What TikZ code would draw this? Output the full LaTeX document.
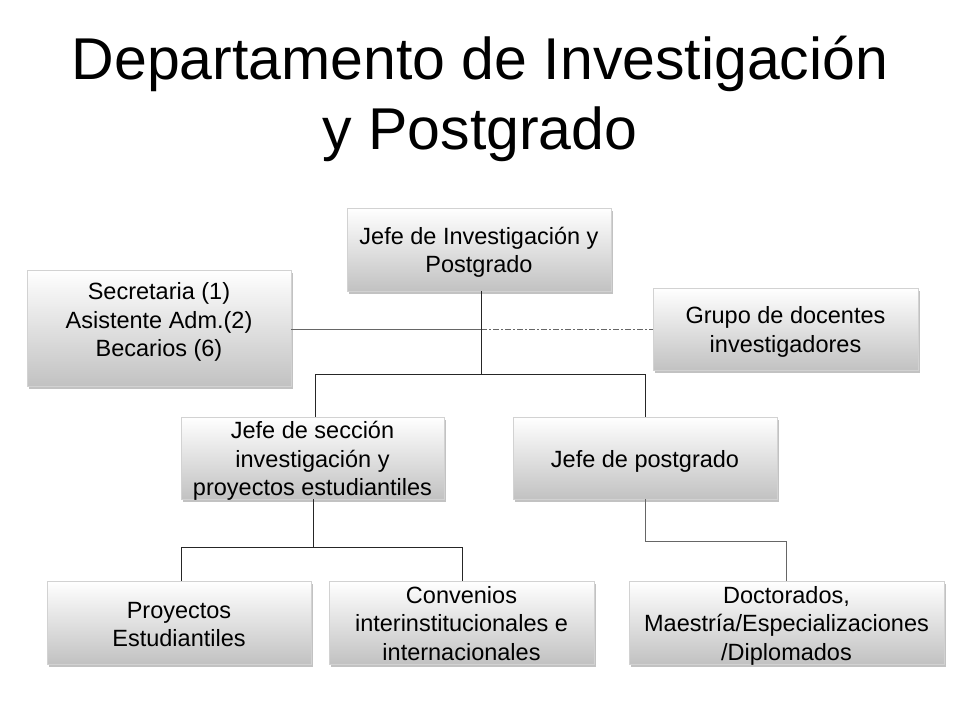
\documentclass[tikz,border=0pt]{standalone}
\usepackage{fontspec}
\setmainfont{Liberation Sans}
\usetikzlibrary{shadows}
\begin{document}
\begin{tikzpicture}[x=1pt,y=-1pt,
  orgbox/.style={draw=gray!35, line width=0.4pt, top color=white, bottom color=black!24,
    drop shadow={shadow xshift=2pt, shadow yshift=-3pt, opacity=0.4, fill=black!60},
    inner sep=0pt},
  lbl/.style={align=center, font=\fontsize{23.5}{28.5}\selectfont, inner sep=0pt, yshift=-3pt},
  conn/.style={line width=0.9pt, draw=black!85},
  gconn/.style={line width=1pt, draw=black!60}]
\useasboundingbox (0,0) rectangle (960,720);
\node[font=\fontsize{59}{70}\selectfont, align=center] (title) at (480,99) {Departamento de Investigación\\y Postgrado};
\node[orgbox, minimum width=264pt, minimum height=83pt, label={[lbl]center:{Jefe de Investigación y\\Postgrado}}] (jefe) at (479,249.5) {};
\node[orgbox, minimum width=264pt, minimum height=116pt, label={[lbl, yshift=9pt]center:{Secretaria (1)\\Asistente Adm.(2)\\Becarios (6)}}] (sec) at (159,328) {};
\node[orgbox, minimum width=265pt, minimum height=82pt, label={[lbl]center:{Grupo de docentes\\investigadores}}] (grupo) at (785.5,329) {};
\node[orgbox, minimum width=263pt, minimum height=82pt, label={[lbl]center:{Jefe de sección\\investigación y\\proyectos estudiantiles}}] (seccion) at (312.5,458) {};
\node[orgbox, minimum width=264pt, minimum height=82pt, label={[lbl]center:{Jefe de postgrado}}] (post) at (645,458) {};
\node[orgbox, minimum width=264pt, minimum height=83pt, label={[lbl, yshift=1pt]center:{Proyectos\\Estudiantiles}}] (proy) at (179,622.5) {};
\node[orgbox, minimum width=265pt, minimum height=83pt, label={[lbl, yshift=2pt]center:{Convenios\\interinstitucionales e\\internacionales}}] (conv) at (461.5,622.5) {};
\node[orgbox, minimum width=315pt, minimum height=83pt, label={[lbl]center:{Doctorados,\\Maestría/Especializaciones\\/Diplomados}}] (doc) at (786.5,622.5) {};
\coordinate (j1) at (481,374);
\coordinate (mid) at (481,329);
\draw[gconn] (sec.east |- mid) -- (mid);
\draw[gconn, dash pattern=on 6pt off 2pt on 2pt off 2pt] (mid) -- (grupo.west |- mid);
\draw[conn] (jefe.south -| j1) -- (j1);
\draw[conn] (seccion.north -| 315,0) -- (315,374) -- (645,374) -- (post.north);
\draw[conn] (seccion.south -| 313,0) -- (313,547);
\draw[conn] (proy.north -| 181,0) -- (181,547) -- (462,547) -- (conv.north -| 462,0);
\draw[gconn] (post.south) -- (645,541) -- (786,541) -- (doc.north -| 786,0);
\end{tikzpicture}
\end{document}
